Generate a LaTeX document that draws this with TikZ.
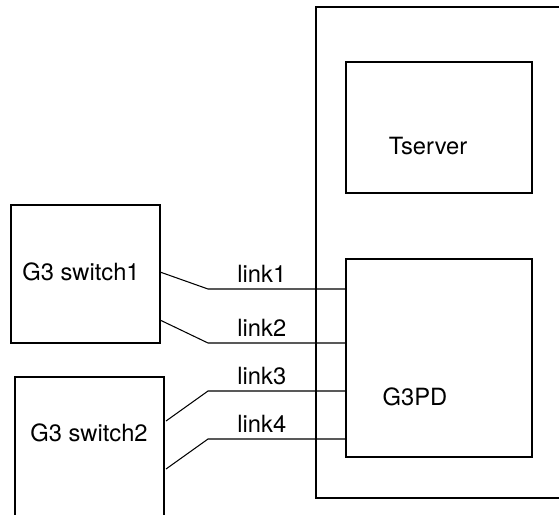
\documentclass[tikz,border=0pt]{standalone}
\usepackage{fontspec}
\setmainfont{TeX Gyre Heros}
\usetikzlibrary{positioning}

\begin{document}
\begin{tikzpicture}[
  box/.style={draw, line width=0.6pt, inner sep=0pt, outer sep=0pt},
  txt/.style={font=\fontsize{13.5}{15}\selectfont},
  wire/.style={line width=0.6pt}
]
\useasboundingbox (0,0) rectangle (11.18,-10.28);
\clip (0,0) rectangle (11.18,-10.28);

% Chassis with the two cards, and the two switches linked to G3PD.
\node[box, minimum width=5.18cm, minimum height=9.82cm] (chassis) at (8.91,-5.05) {};
\node[box, minimum width=3.72cm, minimum height=2.62cm] (tserver) at (8.78,-2.55) {};
\node[box, minimum width=3.72cm, minimum height=3.96cm] (g3pd) at (8.78,-7.16) {};
\node[box, minimum width=2.98cm, minimum height=2.76cm] (switch1) at (1.71,-5.48) {};
\node[box, minimum width=2.98cm, minimum height=3.40cm] (switch2) at (1.79,-9.24) {};

\node[txt] (tservertext) at (8.56,-2.92) {Tserver};
\node[txt] (g3pdtext) at (8.30,-7.94) {G3PD};
\node[txt] (switch1text) at (1.62,-5.44) {G3 switch1};
\node[txt] (switch2text) at (1.78,-8.66) {G3 switch2};

\coordinate (bend) at (4.16,0);
\coordinate (port1) at ([yshift=-0.60cm]g3pd.north west);
\coordinate (port2) at ([yshift=-1.68cm]g3pd.north west);
\coordinate (port3) at ([yshift=-2.64cm]g3pd.north west);
\coordinate (port4) at ([yshift=-3.60cm]g3pd.north west);

\draw[wire] ([yshift=-1.34cm]switch1.north east) -- (bend |- port1) -- node[txt, above=0pt, pos=0.39] (link1) {link1} (port1);
\draw[wire] ([yshift=0.46cm]switch1.south east) -- (bend |- port2) -- node[txt, above=0pt, pos=0.39] (link2) {link2} (port2);
\draw[wire] ([xshift=0.04cm, yshift=-0.88cm]switch2.north east) -- (bend |- port3) -- node[txt, above=0pt, pos=0.39] (link3) {link3} (port3);
\draw[wire] ([xshift=0.04cm, yshift=-1.84cm]switch2.north east) -- (bend |- port4) -- node[txt, above=0pt, pos=0.39] (link4) {link4} (port4);
\end{tikzpicture}
\end{document}
